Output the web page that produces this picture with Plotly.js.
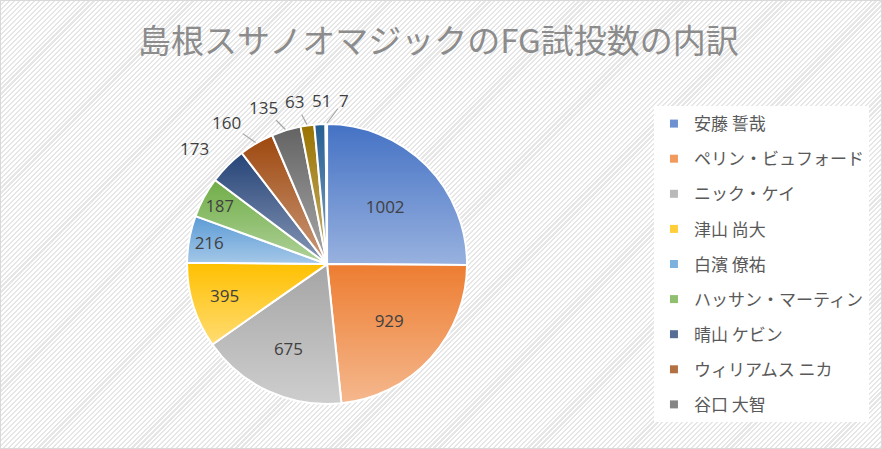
<!DOCTYPE html>
<html>
<head>
<meta charset="utf-8">
<script src="https://cdn.plot.ly/plotly-3.0.1.min.js"></script>
<style>
  html, body { margin: 0; padding: 0; }
  #chart {
    width: 880px; height: 447px;
    border: 1px solid #d9d9d9;
    background: repeating-linear-gradient(135deg, #ffffff 0px, #ffffff 2px, #e6e6e6 2px, #e6e6e6 3.5px);
  }
</style>
</head>
<body>
<div id="chart"></div>
<script>
CHART = document.getElementById('chart');

// FG attempts per player
var players = ['安藤 誓哉', 'ペリン・ビュフォード', 'ニック・ケイ', '津山 尚大', '白濱 僚祐',
               'ハッサン・マーティン', '晴山 ケビン', 'ウィリアムス ニカ', '谷口 大智',
               '選手10', '選手11', '選手12'];
var fga = [1002, 929, 675, 395, 216, 187, 173, 160, 135, 63, 51, 7];
// office palette: top colour of each slice gradient
var baseColors = ['#4472c4', '#ed7d31', '#a5a5a5', '#ffc000', '#5b9bd5', '#70ad47',
                  '#264478', '#9e480e', '#636363', '#997300', '#255e91', '#43682b'];
var insideCount = 6;   // the rest get their value outside
var legendCount = 9;   // the legend only has room for the first nine names

var W = 880, H = 447;
var pieCx = 0.3705, pieCy = 0.4115, pieR = 140;   // paper coords / px

function mix(hex, t) {
    // blend a colour towards white by t
    let c = [1, 3, 5].map(k => parseInt(hex.substr(k, 2), 16));
    c = c.map(v => Math.round(v + (255 - v) * t));
    return '#' + c.map(v => v.toString(16).padStart(2, '0')).join('');
}
var lightColors = baseColors.map(c => mix(c, 0.45));
var midColors = baseColors.map(c => mix(c, 0.22));

var pie = {
    type: 'pie',
    labels: players,
    values: fga,
    sort: false,
    direction: 'clockwise',
    rotation: 0,
    textinfo: 'value',
    textposition: fga.map((v, i) => i < insideCount ? 'inside' : 'none'),
    insidetextorientation: 'horizontal',
    textfont: {family: 'Open Sans, Noto Sans CJK JP', size: 17, color: '#404040'},
    marker: {colors: midColors, line: {color: '#ffffff', width: 2}},
    domain: {x: [pieCx - pieR / W, pieCx + pieR / W], y: [pieCy - pieR / H, pieCy + pieR / H]},
    showlegend: false,
    hoverinfo: 'label+value'
};

var data = [pie];
for (let i = 0; i < legendCount; i++) {
    data.push({
        type: 'scatter',
        mode: 'markers',
        x: [null], y: [null],
        name: players[i],
        legendgroup: 'g' + i,
        marker: {symbol: 'square', size: 8, color: midColors[i]},
        hoverinfo: 'skip'
    });
}

// outside value labels, placed from each slice's mid angle, spread so they don't overlap
var total = fga.reduce((a, b) => a + b, 0);
var labels = [];
var cum = 0;
for (let i = 0; i < fga.length; i++) {
    let th = (cum + fga[i] / 2) / total * 2 * Math.PI;
    cum += fga[i];
    if (i < insideCount) continue;
    let s = Math.sin(th), c = Math.cos(th);
    let w = String(fga[i]).length * 9.5, h = 18;
    let ex = pieCx * W + pieR * s, ey = (1 - pieCy) * H - pieR * c;
    let ax = pieCx * W + (pieR + 24) * s + w * 0.8 * s;
    let ay = (1 - pieCy) * H - (pieR + 15) * c - h / 2 * c;
    labels.push({i: i, ex: ex, ey: ey, x0: ax, x: ax, y: ay, w: w});
}
labels.sort((a, b) => a.x0 - b.x0);
for (let it = 0; it < 50; it++) {
    for (let k = 1; k < labels.length; k++) {
        let p = labels[k - 1], q = labels[k];
        if (Math.abs(p.y - q.y) > 18) continue;
        let over = (p.x + p.w / 2 + q.w / 2 + 8) - q.x;
        if (over > 0) { p.x -= over / 2; q.x += over / 2; }
    }
}
var annotations = labels.map(l => ({
    xref: 'paper', yref: 'paper',
    x: l.ex / W, y: 1 - l.ey / H,
    ax: l.x - l.ex, ay: l.y - l.ey,
    axref: 'pixel', ayref: 'pixel',
    text: String(fga[l.i]),
    showarrow: true,
    arrowhead: 0, arrowwidth: 1.2,
    arrowcolor: (Math.abs(l.x - l.x0) > 6) ? '#a6a6a6' : 'rgba(0,0,0,0)',
    standoff: 1,
    font: {family: 'Open Sans, Noto Sans CJK JP', size: 17, color: '#404040'}
}));

var layout = {
    width: W, height: H,
    margin: {l: 0, r: 0, t: 0, b: 0},
    paper_bgcolor: 'rgba(0,0,0,0)',
    plot_bgcolor: 'rgba(0,0,0,0)',
    font: {family: 'Noto Sans CJK JP', color: '#595959'},
    title: {
        text: '島根スサノオマジックのFG試投数の内訳',
        font: {family: 'Noto Sans CJK JP', size: 33, color: '#8c8c8c'},
        x: 0.497, xanchor: 'center',
        y: 0.91, yanchor: 'middle', yref: 'container'
    },
    xaxis: {visible: false},
    yaxis: {visible: false},
    annotations: annotations,
    legend: {
        x: 0.742, xanchor: 'left',
        y: 0.765, yanchor: 'top',
        bgcolor: '#ffffff',
        borderwidth: 0,
        traceorder: 'grouped',
        tracegroupgap: 10,
        itemwidth: 30,
        font: {family: 'Noto Sans CJK JP', size: 17, color: '#595959'}
    }
};

// vertical gradient on every slice, like the original
function addGradients() {
    let svg = CHART.querySelector('svg.main-svg');
    let ns = 'http://www.w3.org/2000/svg';
    let defs = svg.querySelector('defs') || svg.insertBefore(document.createElementNS(ns, 'defs'), svg.firstChild);
    baseColors.forEach((col, i) => {
        let g = document.createElementNS(ns, 'linearGradient');
        g.setAttribute('id', 'slicegrad' + i);
        g.setAttribute('x1', '0'); g.setAttribute('y1', '0');
        g.setAttribute('x2', '0'); g.setAttribute('y2', '1');
        [[0, col], [1, lightColors[i]]].forEach(st => {
            let s = document.createElementNS(ns, 'stop');
            s.setAttribute('offset', st[0]);
            s.setAttribute('stop-color', st[1]);
            g.appendChild(s);
        });
        defs.appendChild(g);
    });
    CHART.querySelectorAll('g.slice path.surface').forEach((p, i) => {
        p.style.fill = 'url(#slicegrad' + i + ')';
    });
}

Plotly.newPlot(CHART, data, layout, {displayModeBar: false}).then(addGradients);
</script>
</body>
</html>
